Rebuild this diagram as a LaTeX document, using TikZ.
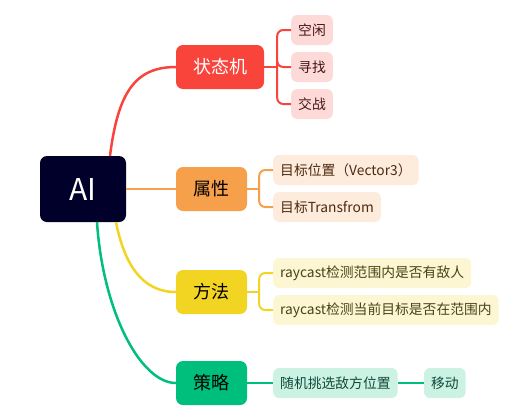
\documentclass[tikz,border=0pt]{standalone}
\usepackage{fontspec}
\setmainfont{Noto Sans CJK SC}
\definecolor{mmRoot}{HTML}{00002B}
\definecolor{mmRed}{HTML}{F8443B}
\definecolor{mmRedL}{HTML}{FDDAD8}
\definecolor{mmRedT}{HTML}{451414}
\definecolor{mmOrg}{HTML}{F7A04B}
\definecolor{mmOrgL}{HTML}{FDEBDC}
\definecolor{mmOrgT}{HTML}{4D2A12}
\definecolor{mmYel}{HTML}{F2D423}
\definecolor{mmYelL}{HTML}{FDF6D3}
\definecolor{mmYelT}{HTML}{4A4216}
\definecolor{mmGrn}{HTML}{00BE7B}
\definecolor{mmGrnL}{HTML}{CCF2E4}
\definecolor{mmGrnT}{HTML}{0F4A3A}
\usetikzlibrary{calc}

\begin{document}
\begin{tikzpicture}[x=1pt, y=-1pt,
  rootbox/.style={rounded corners=7pt, fill=mmRoot, text=white,
    minimum width=86pt, minimum height=66pt, font=\fontsize{30}{32}\selectfont},
  branch/.style={rounded corners=7pt, minimum width=71pt, minimum height=44pt,
    inner sep=0pt, font=\fontsize{18}{20}\selectfont},
  leaf/.style={rounded corners=6pt, minimum height=30pt, inner xsep=7pt,
    inner ysep=0pt, anchor=west, font=\fontsize{13.8}{15}\selectfont},
  mainln/.style={line width=2.5pt},
  leafln/.style={line width=2pt, rounded corners=6pt}
]
  \useasboundingbox (0,0) rectangle (527,413);
  % Root
  \node[rootbox] (ai) at (83,189) {AI};
  % Branches
  \node[branch, fill=mmRed, text=white, minimum width=88pt] (fsm) at (220,67) {状态机};
  \node[branch, fill=mmOrg, text=black] (attr) at (211.5,189) {属性};
  \node[branch, fill=mmYel, text=black] (meth) at (211.5,292) {方法};
  \node[branch, fill=mmGrn, text=black] (strat) at (211.5,383) {策略};
  % 状态机 leaves
  \node[leaf, fill=mmRedL, text=mmRedT] (idle) at (291,30) {空闲};
  \node[leaf, fill=mmRedL, text=mmRedT] (seek) at (291,67) {寻找};
  \node[leaf, fill=mmRedL, text=mmRedT] (fight) at (291,104) {交战};
  % 属性 leaves
  \node[leaf, fill=mmOrgL, text=mmOrgT] (tpos) at (273,170) {目标位置（Vector3）};
  \node[leaf, fill=mmOrgL, text=mmOrgT] (ttf) at (273,207) {目标Transfrom};
  % 方法 leaves
  \node[leaf, fill=mmYelL, text=mmYelT] (ray1) at (273,273) {raycast检测范围内是否有敌人};
  \node[leaf, fill=mmYelL, text=mmYelT] (ray2) at (273,310) {raycast检测当前目标是否在范围内};
  % 策略 leaves
  \node[leaf, fill=mmGrnL, text=mmGrnT] (pick) at (273,383) {随机挑选敌方位置};
  \node[leaf, fill=mmGrnL, text=mmGrnT] (move) at ($(pick.east)+(26,0)$) {移动};
  % Root to branches
  \draw[mainln, mmRed] ($(ai.north)+(27,0)$) .. controls +(8,-63) and +(-41,0) .. (fsm.west);
  \draw[mainln, mmOrg] (ai.east) -- (attr.west);
  \draw[mainln, mmYel] ($(ai.south)+(33,0)$) .. controls +(8,40) and +(-35,0) .. (meth.west);
  \draw[mainln, mmGrn] ($(ai.south)+(14,0)$) .. controls +(6,90) and +(-35,0) .. (strat.west);
  % Branches to leaves
  \coordinate (fsmj) at ($(fsm.east)+(13,0)$);
  \draw[leafln, mmRed] (fsm.east) -- (fsmj);
  \foreach \n in {idle,seek,fight}
    \draw[leafln, mmRed] (fsmj) |- (\n.west);
  \coordinate (attrj) at ($(attr.east)+(12,0)$);
  \draw[leafln, mmOrg] (attr.east) -- (attrj);
  \foreach \n in {tpos,ttf}
    \draw[leafln, mmOrg] (attrj) |- (\n.west);
  \coordinate (methj) at ($(meth.east)+(12,0)$);
  \draw[leafln, mmYel] (meth.east) -- (methj);
  \foreach \n in {ray1,ray2}
    \draw[leafln, mmYel] (methj) |- (\n.west);
  \draw[leafln, mmGrn] (strat.east) -- (pick.west);
  \draw[leafln, mmGrn] (pick.east) -- (move.west);
\end{tikzpicture}
\end{document}
